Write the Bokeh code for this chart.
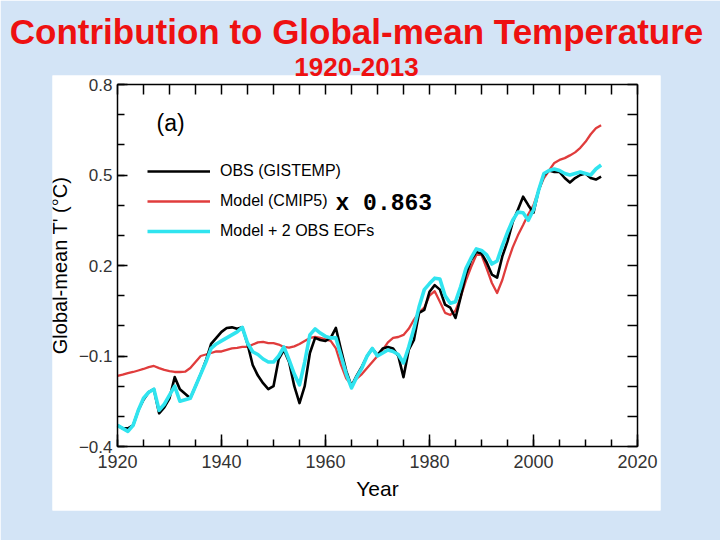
from bokeh.plotting import figure
from bokeh.models import (Range1d, LinearAxis, FixedTicker, Legend, LegendItem, Title,
                          Label, CustomJSTickFormatter, CustomLabelingPolicy)
from bokeh.embed import file_html
from bokeh.resources import INLINE

# ---------------- data ----------------
years = list(range(1920, 2014))

obs = [-0.33, -0.34, -0.34, -0.33, -0.28, -0.245, -0.22, -0.21, -0.29, -0.27,
       -0.24, -0.17, -0.21, -0.225, -0.24, -0.20, -0.16, -0.115, -0.06, -0.04,
       -0.02, -0.007, -0.005, -0.01, -0.005, -0.06, -0.13, -0.165, -0.19, -0.21,
       -0.20, -0.11, -0.08, -0.12, -0.20, -0.256, -0.20, -0.09, -0.04, -0.047,
       -0.05, -0.04, -0.007, -0.08, -0.15, -0.20, -0.165, -0.135, -0.10, -0.075,
       -0.097, -0.075, -0.07, -0.075, -0.10, -0.17, -0.08, -0.047, 0.043, 0.053,
       0.113, 0.135, 0.12, 0.07, 0.06, 0.026, 0.096, 0.17, 0.218, 0.245,
       0.24, 0.21, 0.17, 0.16, 0.23, 0.28, 0.344, 0.385, 0.428, 0.40,
       0.375, 0.45, 0.50, 0.515, 0.51, 0.51, 0.49, 0.475, 0.49, 0.50,
       0.505, 0.49, 0.485, 0.495]

model = [-0.166, -0.162, -0.157, -0.153, -0.148, -0.143, -0.137, -0.133, -0.14, -0.146,
         -0.15, -0.153, -0.153, -0.152, -0.14, -0.12, -0.10, -0.095, -0.09, -0.085,
         -0.085, -0.08, -0.075, -0.073, -0.07, -0.07, -0.062, -0.055, -0.053, -0.057,
         -0.057, -0.062, -0.07, -0.072, -0.068, -0.06, -0.05, -0.04, -0.037, -0.04,
         -0.045, -0.05, -0.075, -0.13, -0.175, -0.196, -0.175, -0.16, -0.14, -0.12,
         -0.10, -0.08, -0.055, -0.04, -0.037, -0.03, -0.01, 0.02, 0.045, 0.06,
         0.10, 0.115, 0.08, 0.043, 0.036, 0.05, 0.096, 0.15, 0.195, 0.235,
         0.235, 0.19, 0.142, 0.109, 0.152, 0.21, 0.26, 0.30, 0.334, 0.37,
         0.40, 0.45, 0.49, 0.515, 0.54, 0.55, 0.556, 0.565, 0.575, 0.59,
         0.61, 0.635, 0.655, 0.665]

model_eofs = [-0.33, -0.34, -0.35, -0.33, -0.28, -0.24, -0.22, -0.21, -0.28, -0.26,
              -0.23, -0.20, -0.25, -0.245, -0.24, -0.20, -0.16, -0.12, -0.075, -0.06,
              -0.05, -0.04, -0.03, -0.02, -0.005, -0.057, -0.086, -0.095, -0.11, -0.12,
              -0.12, -0.10, -0.07, -0.113, -0.16, -0.196, -0.12, -0.03, -0.01, -0.024,
              -0.035, -0.04, -0.04, -0.10, -0.16, -0.206, -0.17, -0.14, -0.10, -0.075,
              -0.10, -0.09, -0.08, -0.085, -0.095, -0.123, -0.07, -0.01, 0.063, 0.12,
              0.14, 0.158, 0.155, 0.10, 0.075, 0.08, 0.13, 0.19, 0.225, 0.255,
              0.25, 0.235, 0.205, 0.215, 0.265, 0.31, 0.35, 0.377, 0.375, 0.35,
              0.385, 0.45, 0.505, 0.515, 0.52, 0.515, 0.505, 0.50, 0.505, 0.51,
              0.505, 0.50, 0.52, 0.533]

x_major = [1920, 1940, 1960, 1980, 2000, 2020]
x_minor = [1920, 1925, 1930, 1935, 1940, 1945, 1950, 1955, 1960, 1965, 1970,
           1975, 1980, 1985, 1990, 1995, 2000, 2005, 2010, 2015, 2020]
y_major = [-0.4, -0.1, 0.2, 0.5, 0.8]
y_minor = [-0.4, -0.3, -0.2, -0.1, 0.0, 0.1, 0.2, 0.3, 0.4, 0.5, 0.6, 0.7, 0.8]
x_lim = (1920, 2020)
y_lim = (-0.4, 0.8)

title_text = "Contribution to Global-mean Temperature"
subtitle_text = "1920-2013"
legend_labels = ["OBS (GISTEMP)", "Model (CMIP5)", "Model + 2 OBS EOFs"]
scale_note = "x 0.863"

# ---------------- layout / styling ----------------
BG = "#d3e4f6"
SANS = "Liberation Sans"

# white panel = plot frame; the boxed axes sit inside it
PANEL_L, PANEL_R, PANEL_T, PANEL_B = 52, 660, 75, 510      # canvas px of white panel
BOX_L, BOX_R, BOX_T, BOX_B = 117, 637, 84, 446              # canvas px of axes box
xs = (x_lim[1] - x_lim[0]) / (BOX_R - BOX_L)
ys = (y_lim[1] - y_lim[0]) / (BOX_B - BOX_T)
x_range = Range1d(x_lim[0] - (BOX_L - PANEL_L) * xs, x_lim[1] + (PANEL_R - BOX_R) * xs)
y_range = Range1d(y_lim[0] - (PANEL_B - BOX_B) * ys, y_lim[1] + (BOX_T - PANEL_T) * ys)

p = figure(width=720, height=540, x_range=x_range, y_range=y_range,
           output_backend="svg", toolbar_location=None,
           min_border_left=PANEL_L, min_border_right=720 - PANEL_R,
           min_border_top=PANEL_T, min_border_bottom=540 - PANEL_B,
           background_fill_color="white", border_fill_color=BG,
           outline_line_color=None)
p.grid.visible = False

# titles (above the white panel, on the blue background)
p.add_layout(Title(text=subtitle_text, align="center", standoff=0,
                   text_font=SANS, text_font_style="bold", text_font_size="26px",
                   text_color="#ee1111"), "above")
p.add_layout(Title(text=title_text, align="center", standoff=10,
                   text_font=SANS, text_font_style="bold", text_font_size="35px",
                   text_color="#ee1111"), "above")

xa = p.xaxis[0]
xa.ticker = FixedTicker(ticks=x_major, minor_ticks=x_minor)
xa.fixed_location = y_lim[0]
xa.bounds = x_lim
ya = p.yaxis[0]
ya.ticker = FixedTicker(ticks=y_major, minor_ticks=y_minor)
ya.formatter = CustomJSTickFormatter(code="return tick.toFixed(1).replace('-', '\u2212');")
ya.fixed_location = x_lim[0]
ya.bounds = y_lim

for ax in (xa, ya):
    ax.major_tick_out = 0
    ax.minor_tick_out = 0
    ax.minor_tick_in = 7
    ax.major_tick_line_width = 1.5
    ax.minor_tick_line_width = 1.5
    ax.axis_line_width = 1.5
    ax.major_label_text_font = SANS
    ax.major_label_text_color = "#333333"
    ax.axis_label_text_font = SANS
    ax.axis_label_text_font_style = "normal"
    ax.axis_label_text_color = "black"

xa.major_tick_in = 12
xa.major_label_standoff = 8
xa.major_label_text_font_size = "18px"
xa.axis_label = "Year"
xa.axis_label_text_font_size = "21px"
xa.axis_label_standoff = 6

ya.major_tick_in = 10
ya.major_label_standoff = 5
ya.major_label_text_font_size = "17px"
ya.axis_label = "Global-mean T' (°C)"
ya.axis_label_text_font_size = "20px"
ya.axis_label_standoff = 5

hide_labels = CustomLabelingPolicy(code="""
const all = [...indices];
for (const i of all) indices.unset(i);
return indices;
""")
top = LinearAxis(ticker=FixedTicker(ticks=x_minor), fixed_location=y_lim[1], bounds=x_lim,
                 major_tick_in=10, major_tick_out=0, minor_tick_in=0, minor_tick_out=0,
                 major_label_policy=hide_labels, major_label_standoff=0,
                 axis_line_width=1.5, major_tick_line_width=1.5)
p.add_layout(top, "above")
right = LinearAxis(ticker=FixedTicker(ticks=y_minor), fixed_location=x_lim[1], bounds=y_lim,
                   major_tick_in=10, major_tick_out=0, minor_tick_in=0, minor_tick_out=0,
                   major_label_policy=hide_labels, major_label_standoff=0,
                   axis_line_width=1.5, major_tick_line_width=1.5)
p.add_layout(right, "right")

r_model = p.line(years, model, line_color="#e03c3c", line_width=2.3, line_join="round")
r_obs = p.line(years, obs, line_color="black", line_width=2.6, line_join="round")
r_eof = p.line(years, model_eofs, line_color="#30e4ef", line_width=3.6, line_join="round")

legend = Legend(items=[LegendItem(label=legend_labels[0], renderers=[r_obs]),
                       LegendItem(label=legend_labels[1], renderers=[r_model]),
                       LegendItem(label=legend_labels[2], renderers=[r_eof])],
                location=(95, 269), glyph_width=63, glyph_height=20, label_standoff=10,
                spacing=10, padding=0, margin=0, border_line_alpha=0,
                background_fill_alpha=0, label_text_font=SANS,
                label_text_font_size="16px", label_text_color="black")
p.add_layout(legend)

p.add_layout(Label(x=104, y=375, x_units="screen", y_units="screen", text="(a)",
                   text_font=SANS, text_font_size="23px", text_color="black"))
p.add_layout(Label(x=283, y=294, x_units="screen", y_units="screen", text=scale_note,
                   text_font="Liberation Mono", text_font_style="bold",
                   text_font_size="23px", text_color="black"))

with open("out.html", "w") as f:
    f.write(file_html(p, INLINE))
